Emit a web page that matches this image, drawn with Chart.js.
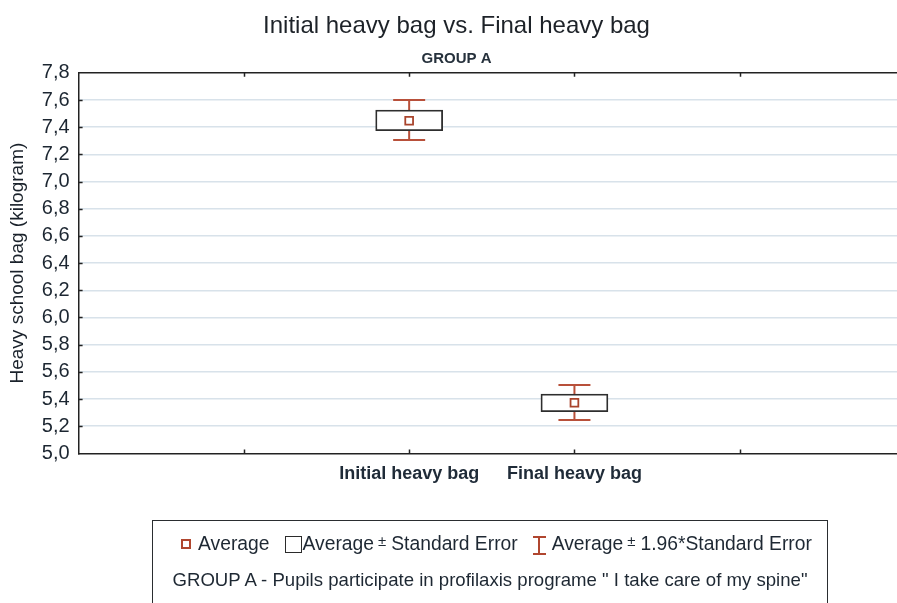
<!DOCTYPE html>
<html>
<head>
<meta charset="utf-8">
<script src="https://cdn.jsdelivr.net/npm/chart.js@4.4.1/dist/chart.umd.min.js"></script>
<style>
  html,body{margin:0;padding:0;background:#fff;overflow:hidden;width:897px;height:603px;}
  #wrap{position:relative;width:915px;height:603px;}
  #legend{position:absolute;left:152px;top:520px;width:676px;height:110px;border:1.5px solid #2a2d30;box-sizing:border-box;
    font-family:'Liberation Sans',Arial,sans-serif;color:#1e2833;}
  .row{position:absolute;left:0;right:0;display:flex;justify-content:center;align-items:center;white-space:nowrap;}
  .r1{font-size:19.3px;top:12px;padding-left:13px;}
  .r2{font-size:18.6px;top:48px;}
  .ico-mean{display:inline-block;width:6px;height:6px;border:2px solid #b0462f;margin-right:7px;}
  .ico-box{display:inline-block;width:15px;height:15px;border:1.5px solid #2b2b2b;margin-right:1px;}
  .ico-ci{display:inline-block;position:relative;width:13px;height:17px;margin-right:6px;}
  .ico-ci:before{content:"";position:absolute;left:0;right:0;top:0;height:15px;border-top:2px solid #b0462f;border-bottom:2px solid #b0462f;}
  .ico-ci:after{content:"";position:absolute;left:5.5px;top:0;width:2px;height:17px;background:#b0462f;}
  sup{font-size:15px;position:relative;top:-4px;vertical-align:baseline;margin:0 5px 0 4px;}
  .gap{width:15px;display:inline-block;}
</style>
</head>
<body>
<div id="wrap">
  <canvas id="c" width="915" height="603"></canvas>
  <div id="legend">
    <div class="row r1">
      <span class="ico-mean"></span><span>Average</span>
      <span class="gap"></span>
      <span class="ico-box"></span><span>Average<sup>±</sup>Standard Error</span>
      <span class="gap"></span>
      <span class="ico-ci"></span><span>Average<sup>±</sup>1.96*Standard Error</span>
    </div>
    <div class="row r2">GROUP A - Pupils participate in profilaxis programe " I take care of my spine"</div>
  </div>
</div>
<script>
// ---- data ----
const categories = ['Initial heavy bag', 'Final heavy bag'];
const categoryPositions = [2, 3];
const averages = [7.447, 5.372];
const seLow = [7.374, 5.307];
const seHigh = [7.526, 5.437];
const ciLow = [7.305, 5.246];
const ciHigh = [7.600, 5.504];
const yTickMin = 5.0;
const yTickMax = 7.8;
const yTickStep = 0.2;

const FONT = "'Liberation Sans',Arial,sans-serif";
const WHISKER = '#b8503a';

const innerTicks = {
  id: 'innerTicks',
  afterDraw(chart) {
    const {ctx, chartArea: a, scales} = chart;
    ctx.save();
    ctx.strokeStyle = '#222';
    ctx.lineWidth = 1.5;
    const x = scales.x;
    x.ticks.forEach(t => {
      if (t.value <= x.min || t.value >= x.max) return;
      const px = Math.round(x.getPixelForValue(t.value)) + 0.5;
      ctx.beginPath();
      ctx.moveTo(px, a.bottom); ctx.lineTo(px, a.bottom - 4);
      ctx.moveTo(px, a.top); ctx.lineTo(px, a.top + 4);
      ctx.stroke();
    });
    const y = scales.y;
    y.ticks.forEach(t => {
      if (t.value <= y.min + 1e-9 || t.value >= y.max - 1e-9) return;
      const py = Math.round(y.getPixelForValue(t.value)) + 0.5;
      ctx.beginPath();
      ctx.moveTo(a.left, py); ctx.lineTo(a.left + 4, py);
      ctx.stroke();
    });
    ctx.restore();
  }
};

const whiskers = {
  id: 'whiskers',
  beforeDatasetsDraw(chart) {
    const {ctx, scales} = chart;
    ctx.save();
    ctx.strokeStyle = WHISKER;
    ctx.lineWidth = 2;
    categoryPositions.forEach((p, i) => {
      const px = scales.x.getPixelForValue(p);
      const yl = scales.y.getPixelForValue(ciLow[i]);
      const yh = scales.y.getPixelForValue(ciHigh[i]);
      ctx.beginPath();
      ctx.moveTo(px, yl); ctx.lineTo(px, yh);
      ctx.moveTo(px - 16, yl); ctx.lineTo(px + 16, yl);
      ctx.moveTo(px - 16, yh); ctx.lineTo(px + 16, yh);
      ctx.stroke();
    });
    ctx.restore();
  }
};

new Chart(document.getElementById('c'), {
  type: 'bar',
  data: {
    datasets: [
      {
        type: 'scatter',
        label: 'Average',
        data: categoryPositions.map((p, i) => ({x: p, y: averages[i]})),
        pointStyle: 'rect',
        pointRadius: 5.5,
        borderColor: '#a9442c',
        backgroundColor: '#ffffff',
        borderWidth: 1.8,
        order: 0
      },
      {
        type: 'bar',
        label: 'Average ± Standard Error',
        data: categoryPositions.map((p, i) => ({x: p, y: [seLow[i], seHigh[i]]})),
        backgroundColor: '#ffffff',
        borderColor: '#2e2e2e',
        borderWidth: 1.8,
        borderSkipped: false,
        barThickness: 67,
        order: 1
      }
    ]
  },
  options: {
    responsive: false,
    animation: false,
    events: [],
    layout: {padding: {left: 6, right: 8, top: 0, bottom: 108}},
    plugins: {
      legend: {display: false},
      tooltip: {enabled: false},
      title: {
        display: true,
        text: 'Initial heavy bag vs. Final heavy bag',
        color: '#1d2228',
        font: {family: FONT, size: 24, weight: 'normal'},
        padding: {top: 12, bottom: 9}
      },
      subtitle: {
        display: true,
        text: 'GROUP A',
        color: '#26313c',
        font: {family: FONT, size: 15, weight: 'bold'},
        padding: {top: 0, bottom: 5}
      }
    },
    scales: {
      x: {
        type: 'linear',
        position: 'bottom',
        min: 0, max: 5,
        offset: false,
        grid: {display: true, color: 'rgba(0,0,0,0)', drawTicks: false, offset: false},
        border: {display: true, color: '#222', width: 1.5},
        ticks: {
          stepSize: 1,
          autoSkip: false,
          maxRotation: 0,
          padding: 10,
          color: '#1f2b38',
          font: {family: FONT, size: 18, weight: 'bold'},
          callback: (v) => { const k = categoryPositions.indexOf(v); return k >= 0 ? categories[k] : ''; }
        }
      },
      xTop: {
        type: 'linear',
        position: 'top',
        min: 0, max: 5,
        offset: false,
        grid: {display: true, color: 'rgba(0,0,0,0)', drawTicks: false},
        border: {display: true, color: '#222', width: 1.5},
        ticks: {display: false, stepSize: 1}
      },
      y: {
        type: 'linear',
        min: yTickMin, max: yTickMax,
        grid: {
          drawTicks: false,
          lineWidth: 1.5,
          color: (c) => (c.index === 0 || c.tick.value >= yTickMax - 1e-9) ? 'rgba(0,0,0,0)' : '#d8e2ea'
        },
        border: {display: true, color: '#222', width: 1.5},
        ticks: {
          stepSize: yTickStep,
          padding: 9,
          color: '#1c2631',
          font: {family: FONT, size: 20},
          callback: (v) => Number(v).toFixed(1).replace('.', ',')
        },
        title: {
          display: true,
          text: 'Heavy school bag (kilogram)',
          color: '#1a222b',
          font: {family: FONT, size: 19},
          padding: {top: 0, bottom: 4}
        }
      }
    }
  },
  plugins: [whiskers, innerTicks]
});
</script>
</body>
</html>
